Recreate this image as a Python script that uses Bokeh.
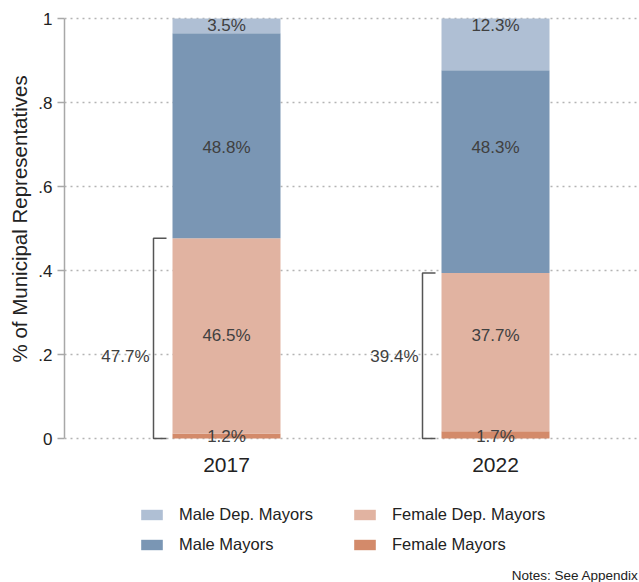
from bokeh.plotting import figure
from bokeh.models import (Range1d, FixedTicker, Legend, LegendItem, Label,
                          ColumnDataSource, Title)
from bokeh.embed import file_html
from bokeh.resources import INLINE

# ---- data ----
years = ["2017", "2022"]
series = ["Female Mayors", "Female Dep. Mayors", "Male Mayors", "Male Dep. Mayors"]
female_mayors = [1.2, 1.7]
female_dep_mayors = [46.5, 37.7]
male_mayors = [48.8, 48.3]
male_dep_mayors = [3.5, 12.3]
y_ticks = [0, 0.2, 0.4, 0.6, 0.8, 1]
y_tick_labels = ["0", ".2", ".4", ".6", ".8", "1"]

# ---- styles ----
colors = ["#d38a6a", "#e1b3a1", "#7a96b4", "#afbfd4"]
label_y = [0.004, 0.245, 0.694, 0.983]   # fixed label heights per series
FONT = "Liberation Sans"
TXT = "#404040"

W, H = 639, 582
FRAME_L = 64
PX = 269.0            # px per x unit
PY = 420.0            # px per y unit
Y0 = 438              # pixel row of y = 0
BAR_W = 108 / PX
xs = list(range(1, len(years) + 1))

p = figure(width=W, height=H, output_backend="svg", toolbar_location=None,
           x_range=Range1d(1 - (226 - FRAME_L) / PX, 2 + (W - 495) / PX),
           y_range=Range1d(-(H - Y0) / PY, 1 + (Y0 - PY) / PY),
           min_border_left=FRAME_L, min_border_right=0, min_border_top=0,
           min_border_bottom=0)
p.outline_line_color = None
p.background_fill_color = "white"
p.border_fill_color = "white"

# grid
p.xgrid.grid_line_color = None
p.ygrid.ticker = FixedTicker(ticks=y_ticks)
p.ygrid.grid_line_color = "#b4b4b4"
p.ygrid.grid_line_dash = "2 4"
p.ygrid.grid_line_width = 1.5

# y axis
p.yaxis.ticker = FixedTicker(ticks=y_ticks)
p.yaxis.bounds = (0, 1)
p.yaxis.major_label_overrides = {t: l for t, l in zip(y_ticks, y_tick_labels)}
p.yaxis.major_label_text_font = FONT
p.yaxis.major_label_text_font_size = "17px"
p.yaxis.major_label_text_color = "#222222"
p.yaxis.major_label_standoff = 5
p.yaxis.axis_line_color = "#a8a8a8"
p.yaxis.axis_line_width = 1.5
p.yaxis.major_tick_line_color = "#a8a8a8"
p.yaxis.major_tick_line_width = 1.5
p.yaxis.major_tick_out = 7
p.yaxis.major_tick_in = 0
p.yaxis.minor_tick_line_color = None

# y axis title, placed along the 0..1 part of the axis
p.add_layout(Title(text="% of Municipal Representatives", align="left",
                   offset=H - 362, standoff=10,
                   text_font=FONT, text_font_size="20.5px",
                   text_font_style="normal", text_color="#222222"), "left")

# x axis (pinned at y = 0)
p.xaxis.fixed_location = 0
p.xaxis.ticker = FixedTicker(ticks=xs)
p.xaxis.major_label_overrides = {x: y for x, y in zip(xs, years)}
p.xaxis.major_label_text_font = FONT
p.xaxis.major_label_text_font_size = "21px"
p.xaxis.major_label_text_color = "#222222"
p.xaxis.major_label_standoff = 13
p.xaxis.axis_line_color = None
p.xaxis.major_tick_line_color = None
p.xaxis.minor_tick_line_color = None

# stacked bars
vals = [female_mayors, female_dep_mayors, male_mayors, male_dep_mayors]
bottoms = [0.0] * len(years)
renderers = {}
label_sources = []
for name, v, c, ly in zip(series, vals, colors, label_y):
    tops = [b + x / 100 for b, x in zip(bottoms, v)]
    src = ColumnDataSource(dict(x=xs, bottom=bottoms, top=tops,
                                lab=[f"{x:.1f}%" for x in v],
                                ly=[ly] * len(years)))
    r = p.vbar(x="x", width=BAR_W, bottom="bottom", top="top", source=src,
               fill_color=c, line_color=None)
    renderers[name] = r
    label_sources.append(src)
    bottoms = tops

for src in label_sources:
    p.text(x="x", y="ly", text="lab", source=src, text_align="center",
           text_baseline="middle", text_font_size="17px",
           text_color=TXT, text_font={"value": FONT})

# brackets for total female share
fem_total = [a + b for a, b in zip(female_mayors, female_dep_mayors)]
bx = [x - BAR_W / 2 - 19 / PX for x in xs]
bx2 = [x - BAR_W / 2 - 6 / PX for x in xs]
top = [t / 100 for t in fem_total]
for xa, xb, t in zip(bx, bx2, top):
    p.line(x=[xb, xa, xa, xb], y=[t, t, 0, 0], line_color="#555555",
           line_width=1.5)
bsrc = ColumnDataSource(dict(x=[x - 4 / PX for x in bx], y=[0.195] * len(xs),
                             t=[f"{t:.1f}%" for t in fem_total]))
p.text(x="x", y="y", text="t", source=bsrc, text_align="right",
       text_baseline="middle", text_font_size="17px", text_color=TXT,
       text_font={"value": FONT})

# legends (two columns built as two legends)
def make_legend(names, xloc):
    lg = Legend(items=[LegendItem(label=n, renderers=[renderers[n]]) for n in names],
                location=(xloc, 28), orientation="vertical",
                glyph_width=27, glyph_height=13, label_standoff=14,
                label_height=20, spacing=10, padding=0, margin=0,
                border_line_color=None, background_fill_alpha=0,
                label_text_font=FONT, label_text_font_size="16.5px",
                label_text_color="#222222")
    p.add_layout(lg, "center")

make_legend(["Male Dep. Mayors", "Male Mayors"], 138 - FRAME_L)
make_legend(["Female Dep. Mayors", "Female Mayors"], 351 - FRAME_L)

notes = Label(x=638 - FRAME_L, y=7, x_units="screen", y_units="screen",
              text="Notes: See Appendix", text_align="right",
              text_baseline="middle", text_font=FONT,
              text_font_size="13.5px", text_color="#222222")
p.add_layout(notes)

open("out.html", "w").write(file_html(p, INLINE))
